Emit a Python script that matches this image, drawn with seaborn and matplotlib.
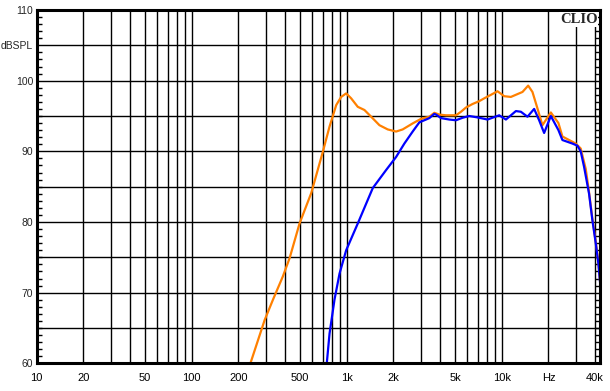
import numpy as np
import pandas as pd
import matplotlib
matplotlib.use("Agg")
import matplotlib.pyplot as plt
from matplotlib.ticker import MultipleLocator
import seaborn as sns

# ---- data ----
orange_freq = [230, 239, 295, 334, 387, 428, 496, 590, 701, 774, 855, 920, 991, 1067,
               1177, 1300, 1436, 1624, 1837, 2080, 2294, 2661, 3013, 3408, 3670, 3954,
               4366, 5063, 5453, 5873, 6477, 7150, 7701, 8508, 9383, 10363, 11445,
               12622, 13593, 14791, 15766, 16727, 18287, 20715, 23185, 24600, 27170,
               29990, 32280, 34790, 36540, 38370, 40360, 41930, 43450]
orange_db = [58.8, 60.0, 66.1, 69.0, 72.3, 74.9, 79.8, 84.1, 89.95, 93.5, 96.55, 97.7,
             98.2, 97.5, 96.3, 95.85, 94.9, 93.7, 93.1, 92.8, 93.1, 93.95, 94.6, 94.9,
             95.45, 95.2, 95.1, 95.1, 95.6, 96.2, 96.7, 97.1, 97.5, 98.0, 98.5, 97.8,
             97.7, 98.1, 98.4, 99.3, 98.4, 96.55, 93.7, 95.5, 94.0, 92.1, 91.6, 91.1,
             90.4, 87.5, 84.2, 80.5, 77.2, 74.4, 70.6]

blue_freq = [735, 743, 774, 833, 898, 991, 1178, 1471, 1793, 2080, 2352, 2661, 2938,
             3408, 3670, 3764, 4055, 4585, 5063, 5584, 6166, 6975, 8088, 9620, 10627,
             12327, 13274, 14640, 16167, 17410, 18750, 20715, 22290, 23185, 24600,
             28530, 30720, 32280, 33940, 36540, 38370, 40360, 41930, 43450]
blue_db = [59.0, 60.0, 64.2, 69.0, 72.7, 76.0, 79.8, 84.8, 87.35, 89.2, 91.1, 92.8,
           94.1, 94.7, 95.3, 95.2, 94.7, 94.5, 94.4, 94.75, 95.0, 94.8, 94.5, 95.1,
           94.5, 95.7, 95.6, 94.9, 96.0, 94.4, 92.6, 95.0, 93.7, 93.0, 91.6, 91.1,
           90.8, 90.0, 87.8, 84.0, 80.3, 77.0, 74.2, 70.4]

ytick_vals = [60, 70, 80, 90, 100, 105, 110]
ytick_labels = ["60", "70", "80", "90", "100", "dBSPL", "110"]
xtick_vals = [10, 20, 50, 100, 200, 500, 1000, 2000, 5000, 10000, 20000, 40000]
xtick_labels = ["10", "20", "50", "100", "200", "500", "1k", "2k", "5k", "10k", "Hz", "40k"]

df = pd.concat([
    pd.DataFrame({"freq": orange_freq, "db": orange_db, "curve": "a"}),
    pd.DataFrame({"freq": blue_freq, "db": blue_db, "curve": "b"}),
])

sns.set_style("white")
plt.rcParams["font.family"] = ["Liberation Sans", "DejaVu Sans"]

fig = plt.figure(figsize=(6.10, 3.91), dpi=100)
ax = fig.add_axes([0.0602, 0.0708, 0.9242, 0.9036])

# grid
grid_f = [m * 10 ** e for e in range(1, 5) for m in range(1, 10)]
grid_f = [g for g in grid_f if 10 < g <= 40000]
for g in grid_f:
    ax.axvline(g, color="black", lw=1.0, zorder=1)
for yv in range(65, 110, 5):
    ax.axhline(yv, color="black", lw=1.0, zorder=1)

sns.lineplot(data=df, x="freq", y="db", hue="curve",
             palette={"a": "#FF8000", "b": "#0000FF"},
             sort=False, estimator=None, lw=1.6, legend=False, ax=ax, zorder=3)

ax.set_xscale("log")
ax.set_xlim(10, 43300)
ax.set_ylim(60, 110)
ax.set_xlabel("")
ax.set_ylabel("")

ax.set_xticks(xtick_vals)
ax.set_xticklabels(xtick_labels)
ax.xaxis.set_minor_locator(matplotlib.ticker.NullLocator())
ax.set_yticks(ytick_vals)
ax.set_yticklabels(ytick_labels)
ax.yaxis.set_minor_locator(MultipleLocator(1))
ax.tick_params(axis="x", which="both", length=0, pad=7, labelsize=8, colors="black")
ax.tick_params(axis="y", which="major", length=0, pad=2.5, labelsize=7.5)
ax.tick_params(axis="y", which="minor", length=3.5, width=1.0, direction="in",
               left=True, right=True, color="black")

for s in ax.spines.values():
    s.set_visible(True)
    s.set_color("black")
    s.set_linewidth(2.2)
    s.set_zorder(5)

ax.text(0.9945, 0.992, "CLIO", transform=ax.transAxes, ha="right", va="top",
        fontsize=10.5, fontweight="bold", family="Liberation Serif", zorder=6,
        bbox=dict(facecolor="white", edgecolor="none", pad=0.5))

fig.savefig("out.png", dpi=100)
